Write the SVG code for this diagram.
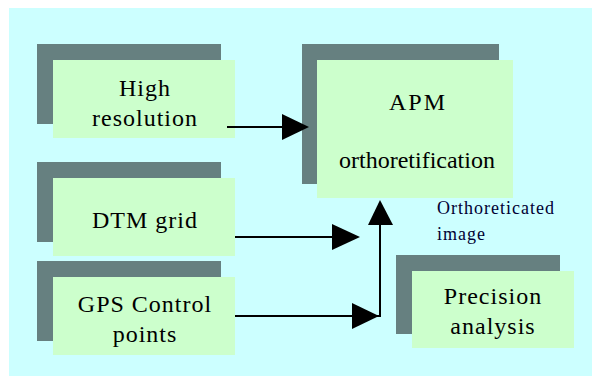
<svg xmlns="http://www.w3.org/2000/svg" width="592" height="376" viewBox="0 0 592 376">
<defs>
<style>
.shadow{fill:#668080}
.box{fill:#CCFFCC}
.t{font-family:"Liberation Serif","Times New Roman","Noto Serif","DejaVu Serif",Times,FreeSerif,serif;font-size:24px;fill:#000;text-anchor:middle;letter-spacing:1px}
.lbl{font-family:"Liberation Serif","Times New Roman","Noto Serif","DejaVu Serif",Times,FreeSerif,serif;font-size:18px;fill:#000033;letter-spacing:1px}
.ln{stroke:#000;stroke-width:2;fill:none}
.ah{fill:#000}
</style>
</defs>
<rect x="0" y="0" width="592" height="376" fill="#ffffff"/>
<rect x="9" y="8" width="583" height="368" fill="#CCFFFF"/>

<g id="high-resolution">
<rect class="shadow" x="37" y="44" width="184" height="80"/>
<rect class="box" x="53" y="60" width="182" height="78"/>
<text class="t" x="145" y="96">High</text>
<text class="t" x="145" y="126">resolution</text>
</g>

<g id="dtm-grid">
<rect class="shadow" x="37" y="162" width="184" height="80"/>
<rect class="box" x="53" y="178" width="182" height="78"/>
<text class="t" x="145" y="228">DTM grid</text>
</g>

<g id="gps-control-points">
<rect class="shadow" x="37" y="261" width="184" height="80"/>
<rect class="box" x="53" y="277" width="182" height="78"/>
<text class="t" x="145" y="312">GPS Control</text>
<text class="t" x="145" y="342">points</text>
</g>

<g id="apm-orthoretification">
<rect class="shadow" x="302" y="44" width="197" height="140"/>
<rect class="box" x="317" y="60" width="196" height="138"/>
<text class="t" x="418" y="110" style="letter-spacing:2px">APM</text>
<text class="t" x="417" y="168" style="letter-spacing:0">orthoretification</text>
</g>

<g id="precision-analysis">
<rect class="shadow" x="396" y="255" width="164" height="79"/>
<rect class="box" x="412" y="271" width="162" height="77"/>
<text class="t" x="493" y="304">Precision</text>
<text class="t" x="493" y="334">analysis</text>
</g>

<g id="label-orthoreticated">
<text class="lbl" x="437" y="214">Orthoreticated</text>
<text class="lbl" x="437" y="240">image</text>
</g>

<g id="connectors">
<line class="ln" x1="227" y1="127" x2="284" y2="127"/>
<polygon class="ah" points="282,114 309,127 282,140"/>
<line class="ln" x1="235" y1="237" x2="334" y2="237"/>
<polygon class="ah" points="332,224 360,237 332,250"/>
<polyline class="ln" points="235,316 380,316 380,222"/>
<polygon class="ah" points="352,303 379,316 352,329"/>
<polygon class="ah" points="368,225 380,200 393,225"/>
</g>
</svg>
